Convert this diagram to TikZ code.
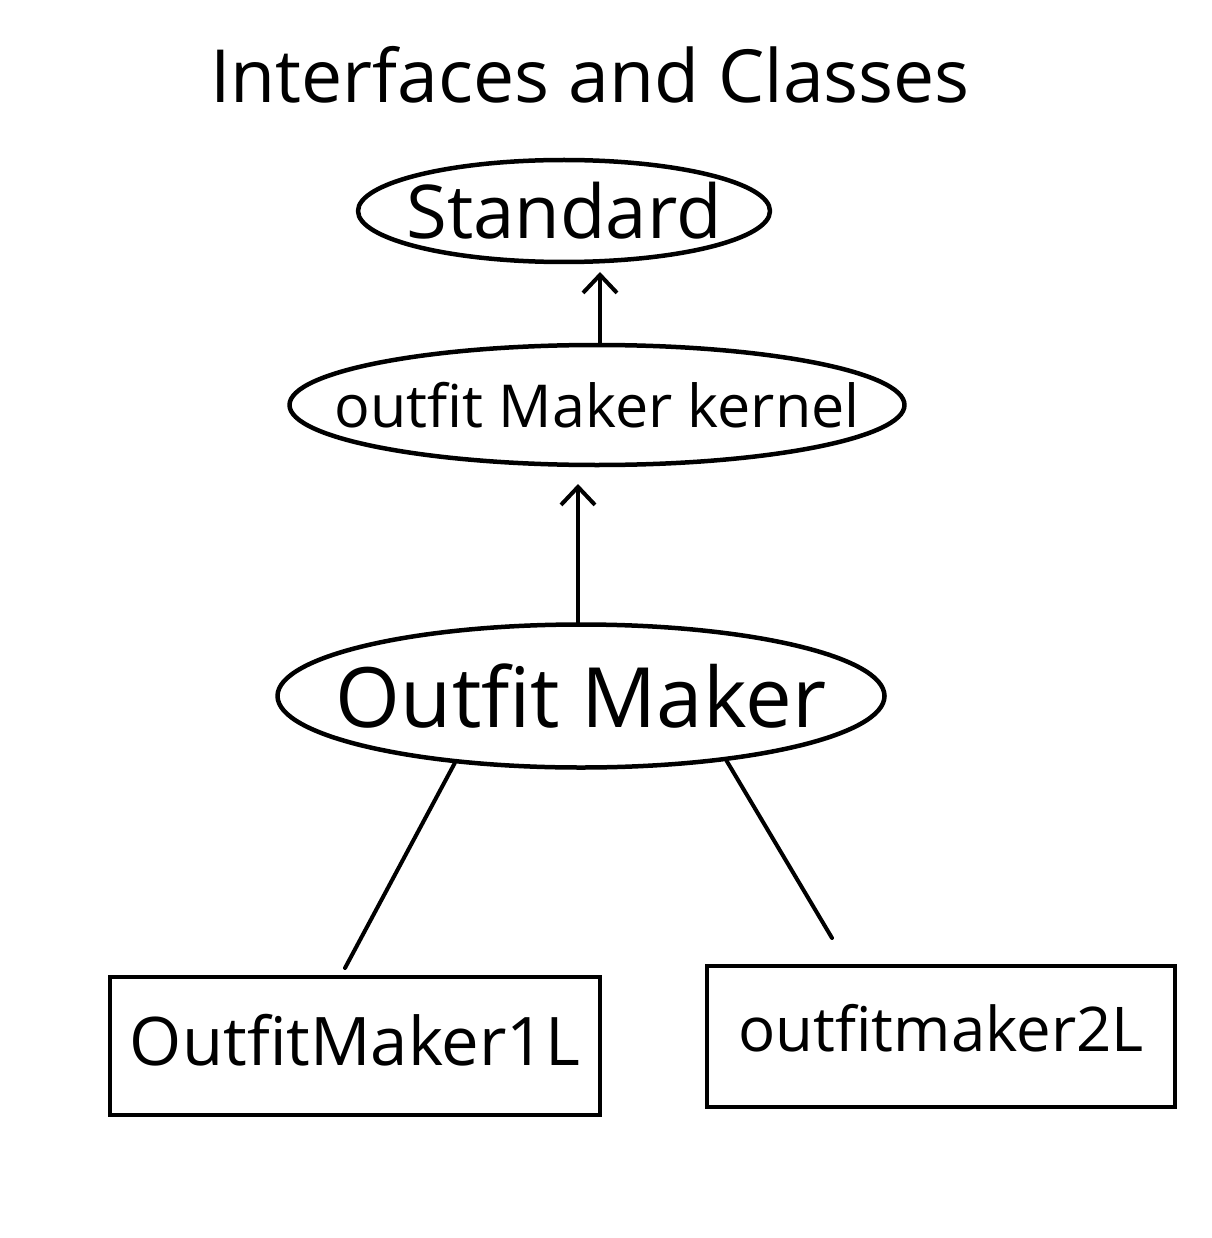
\documentclass[tikz,border=0pt]{standalone}
\usepackage{fontspec}
\setmainfont{Open Sans}
\usetikzlibrary{shapes.geometric,arrows.meta}
\begin{document}
\begin{tikzpicture}[x=1pt,y=-1pt,
  stroke/.style={line width=4.5pt,line cap=round,line join=round},
  oval/.style={ellipse,draw,stroke,inner sep=0pt},
  boxnode/.style={rectangle,draw,line width=4pt,inner sep=0pt},
  conn/.style={line width=4pt,line cap=round},
  upconn/.style={conn,-{Straight Barb[length=18pt,width=34pt,line width=4pt]}},
  lbl/.style={font=\fontsize{60}{60}\selectfont}]
\useasboundingbox (0,0) rectangle (1211,1238);
\node[lbl] (title) at (590,75) {\makebox[0pt]{\resizebox{760pt}{!}{Interfaces and Classes}}};
\node[oval,minimum width=412pt,minimum height=102pt] (std) at (564,211)
  {\makebox[0pt]{\resizebox{315pt}{!}{\fontsize{60}{60}\selectfont Standard}}};
\node[oval,minimum width=615pt,minimum height=120pt] (kern) at (597,405)
  {\makebox[0pt]{\resizebox{525pt}{!}{\fontsize{60}{60}\selectfont outfit Maker kernel}}};
\node[oval,minimum width=607pt,minimum height=143pt] (om) at (581,696)
  {\makebox[0pt]{\resizebox{490pt}{!}{\fontsize{60}{60}\selectfont Outfit Maker}}};
\node[boxnode,minimum width=490pt,minimum height=138pt] (b1) at (355,1046)
  {\makebox[0pt]{\raisebox{12pt}{\resizebox{450pt}{!}{\fontsize{60}{60}\selectfont OutfitMaker1L}}}};
\node[boxnode,minimum width=468pt,minimum height=141pt] (b2) at (941,1036)
  {\makebox[0pt]{\raisebox{16pt}{\resizebox{405pt}{!}{\fontsize{60}{60}\selectfont outfitmaker2L}}}};
\coordinate (a1s) at (600,335);
\coordinate (a1e) at (600,272);
\coordinate (a2s) at (578,615);
\coordinate (a2e) at (578,484);
\draw[upconn] (kern.north -| a1s) -- (a1e);
\draw[upconn] (om.north -| a2s) -- (a2e);
\coordinate (e1) at (345,968);
\coordinate (e2) at (832,938);
\draw[conn] (om.208.5) -- (e1);
\draw[conn] (om.336.4) -- (e2);
\end{tikzpicture}
\end{document}
